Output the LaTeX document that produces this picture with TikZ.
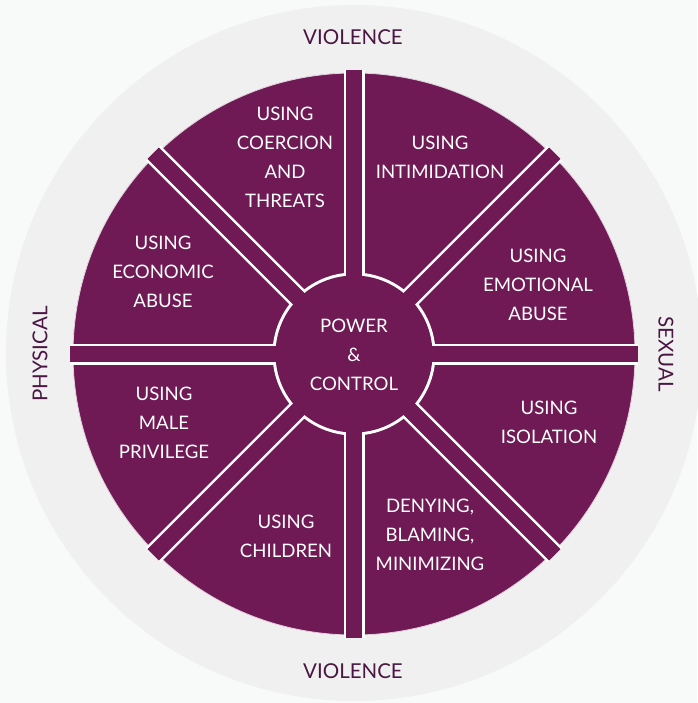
\documentclass[tikz,border=0pt]{standalone}
\usepackage{fontspec}
\setmainfont{Lato}
\usetikzlibrary{calc}
\definecolor{wheelc}{HTML}{701A55}
\definecolor{ringc}{HTML}{F0F0F0}
\definecolor{bgc}{HTML}{F8F9F9}
\definecolor{labelc}{HTML}{4A1742}
\begin{document}
\begin{tikzpicture}[x=1pt,y=-1pt,
  seclabel/.style={text=white, font=\fontsize{18.6}{29}\selectfont, align=center, inner sep=0pt},
  outlabel/.style={text=labelc, font=\fontsize{20.5}{24}\selectfont, inner sep=0pt},
  disc/.style={circle, inner sep=0pt, draw=none}]
\fill[bgc] (0,0) rectangle (697,703);
\useasboundingbox (0,0) rectangle (697,703);
\node[disc, fill=ringc, minimum size=696pt] (ring) at (354,353) {};
\node[disc, fill=wheelc, draw=white!80!wheelc, line width=0.8pt, minimum size=562pt] (wheel) at (354,354) {};
\coordinate (c) at (354,354);
\foreach \a in {0,45,...,315} {
  \begin{scope}[shift={(c)}, rotate=\a]
    \fill[white] (0,-10.5) rectangle (284,10.5);
  \end{scope}
}
\node[disc, fill=white, minimum size=163pt] (hubedge) at (c) {};
\node[disc, fill=wheelc, minimum size=157pt] (hub) at (c) {};
\foreach \a in {0,45,...,315} {
  \begin{scope}[shift={(c)}, rotate=\a]
    \fill[wheelc] (0,-8) rectangle (284,8);
  \end{scope}
}
\node[seclabel] (coercion) at (285,157) {USING\\COERCION\\AND\\THREATS};
\node[seclabel] (intim) at (440,157) {USING\\INTIMIDATION};
\node[seclabel] (emot) at (538,285) {USING\\EMOTIONAL\\ABUSE};
\node[seclabel] (isol) at (549,422) {USING\\ISOLATION};
\node[seclabel] (deny) at (430,535) {DENYING,\\BLAMING,\\MINIMIZING};
\node[seclabel] (child) at (286,536) {USING\\CHILDREN};
\node[seclabel] (male) at (164,423) {USING\\MALE\\PRIVILEGE};
\node[seclabel] (econ) at (163,272) {USING\\ECONOMIC\\ABUSE};
\node[seclabel] (power) at (354,355) {POWER\\\&\\CONTROL};
\node[outlabel] (vtop) at (353,37) {VIOLENCE};
\node[outlabel] (vbot) at (353,671) {VIOLENCE};
\node[outlabel, rotate=90] (phys) at (40,354) {PHYSICAL};
\node[outlabel, rotate=-90] (sex) at (666,354) {SEXUAL};
\end{tikzpicture}
\end{document}
